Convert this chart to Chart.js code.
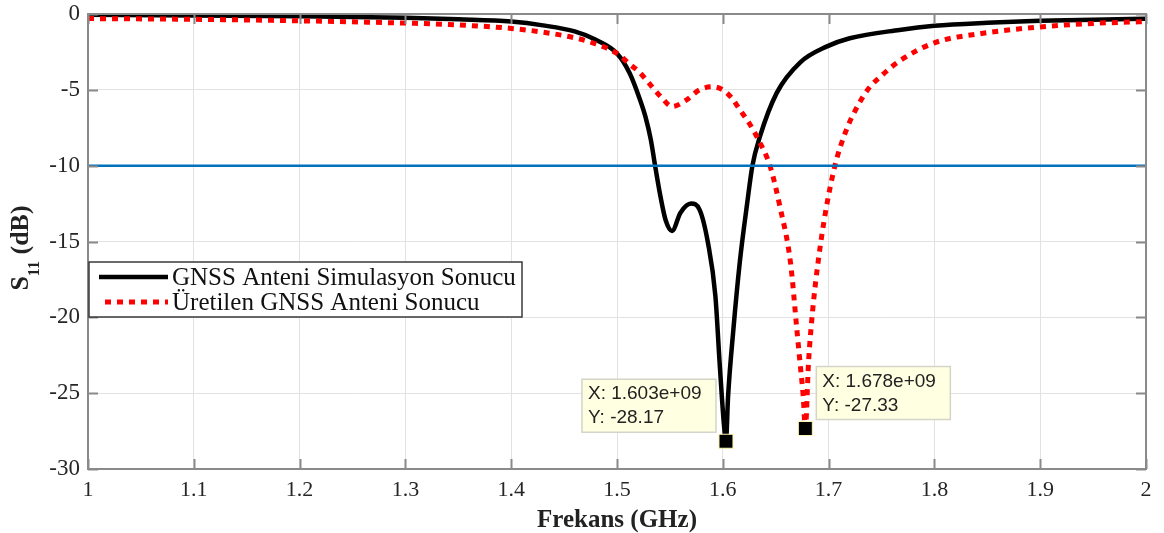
<!DOCTYPE html>
<html>
<head>
<meta charset="UTF-8" />
<script src="https://cdn.jsdelivr.net/npm/chart.js@4/dist/chart.umd.min.js"></script>
<style>
  html, body { margin: 0; padding: 0; background: #fff; }
  canvas { display: block; }
</style>
</head>
<body>
<canvas id="s11" width="1164" height="533"></canvas>
<script>
// Simulated antenna response (GHz, dB)
const simFreq = [1.00, 1.10, 1.20, 1.30, 1.35, 1.40, 1.430, 1.460, 1.480, 1.500, 1.512, 1.522, 1.527, 1.532, 1.536,
  1.541, 1.546, 1.552, 1.560, 1.570, 1.578, 1.586, 1.593, 1.597, 1.601, 1.603, 1.605, 1.610, 1.616,
  1.623, 1.628, 1.635, 1.651, 1.673, 1.698, 1.720, 1.767, 1.800, 1.850, 1.900, 1.950, 2.00];
const simS11 = [-0.05, -0.10, -0.15, -0.25, -0.35, -0.50, -0.75, -1.15, -1.70, -2.60, -3.90, -5.70, -6.80, -8.30, -10.0,
  -12.0, -13.6, -14.3, -13.1, -12.5, -12.9, -15.1, -18.6, -23.0, -27.0, -28.17, -25.2, -20.8, -16.4,
  -12.5, -10.0, -8.1, -5.2, -3.2, -2.15, -1.6, -1.05, -0.78, -0.58, -0.45, -0.38, -0.32];

// Measured response of the manufactured antenna
const measFreq = [1.00, 1.10, 1.20, 1.30, 1.35, 1.40, 1.430, 1.462, 1.477, 1.500, 1.512, 1.522, 1.532,
  1.542, 1.552, 1.565, 1.578, 1.590, 1.600, 1.608, 1.616, 1.625, 1.633, 1.645, 1.654, 1.664, 1.670,
  1.673, 1.676, 1.678, 1.681, 1.685, 1.690, 1.697, 1.706, 1.717, 1.728, 1.738, 1.751, 1.767, 1.800, 1.846,
  1.900, 1.950, 2.00];
const measS11 = [-0.30, -0.35, -0.45, -0.60, -0.72, -0.95, -1.20, -1.60, -1.90, -2.60, -3.30, -3.90, -4.70,
  -5.50, -6.10, -5.70, -5.00, -4.80, -5.00, -5.50, -6.30, -7.20, -8.20, -10.1, -12.7, -16.4, -20.8,
  -23.0, -25.2, -27.33, -23.0, -19.5, -16.4, -13.1, -10.0, -7.6, -6.0, -4.9, -4.0, -3.1, -1.9, -1.27,
  -0.85, -0.62, -0.5];

const refLevel = -10;
const freqRange = [1, 2];
const s11Range = [-30, 0];

const seriesNames = ['GNSS Anteni Simulasyon Sonucu', 'Üretilen GNSS Anteni Sonucu'];
const dataTips = [
  { x: 1.603, y: -28.17, label: ['X: 1.603e+09', 'Y: -28.17'], side: 'left' },
  { x: 1.678, y: -27.33, label: ['X: 1.678e+09', 'Y: -27.33'], side: 'right' }
];

const SERIF = "'Liberation Serif', 'Times New Roman', serif";
const SANS = "'Liberation Sans', Arial, sans-serif";

const toPoints = (xs, ys) => xs.map((v, i) => ({ x: v, y: ys[i] }));

// box, inward ticks, legend, data tips and axis titles
const overlay = {
  id: 'overlay',
  afterDatasetsDraw(chart) {
    const { ctx, chartArea: a, scales: { x, y } } = chart;
    ctx.save();

    ctx.strokeStyle = '#8a8a8a';
    ctx.lineWidth = 2;
    ctx.strokeRect(a.left, a.top, a.right - a.left, a.bottom - a.top);
    ctx.beginPath();
    x.ticks.forEach(t => {
      const px = Math.round(x.getPixelForValue(t.value)) + 0.5;
      ctx.moveTo(px, a.bottom); ctx.lineTo(px, a.bottom - 10);
      ctx.moveTo(px, a.top); ctx.lineTo(px, a.top + 10);
    });
    y.ticks.forEach(t => {
      const py = Math.round(y.getPixelForValue(t.value)) + 0.5;
      ctx.moveTo(a.left, py); ctx.lineTo(a.left + 10, py);
      ctx.moveTo(a.right, py); ctx.lineTo(a.right - 10, py);
    });
    ctx.stroke();

    // legend
    const lg = { x: 89, y: 262, w: 433, h: 55 };
    ctx.fillStyle = '#fff';
    ctx.fillRect(lg.x, lg.y, lg.w, lg.h);
    ctx.strokeStyle = '#3a3a3a';
    ctx.lineWidth = 1.5;
    ctx.strokeRect(lg.x, lg.y, lg.w, lg.h);
    const rows = [277, 302];
    const styles = chart.data.datasets;
    rows.forEach((ry, i) => {
      const ds = styles[i];
      ctx.beginPath();
      ctx.strokeStyle = ds.borderColor;
      ctx.lineWidth = ds.borderWidth;
      ctx.setLineDash(ds.borderDash || []);
      ctx.moveTo(i === 0 ? 99 : 105, ry);
      ctx.lineTo(168, ry);
      ctx.stroke();
      ctx.setLineDash([]);
      ctx.fillStyle = '#111';
      ctx.font = '25px ' + SERIF;
      ctx.textBaseline = 'middle';
      ctx.textAlign = 'left';
      ctx.fillText(seriesNames[i], 172, ry + 1);
    });

    // data tips
    dataTips.forEach(tip => {
      const px = x.getPixelForValue(tip.x);
      const py = y.getPixelForValue(tip.y);
      const bw = 134, bh = 53;
      const bx = tip.side === 'left' ? px - 10 - bw : px + 11;
      const by = py - 9 - bh;
      ctx.fillStyle = '#ffffe1';
      ctx.fillRect(bx, by, bw, bh);
      ctx.strokeStyle = '#d4d4c8';
      ctx.lineWidth = 1.5;
      ctx.strokeRect(bx, by, bw, bh);
      ctx.fillStyle = '#222';
      ctx.font = '19px ' + SANS;
      ctx.textAlign = 'left';
      ctx.textBaseline = 'middle';
      ctx.fillText(tip.label[0], bx + 6, by + 15);
      ctx.fillText(tip.label[1], bx + 6, by + 39);
      ctx.fillStyle = '#000';
      ctx.fillRect(px - 7, py - 7, 14, 14);
      ctx.strokeStyle = '#fff7b0';
      ctx.lineWidth = 1;
      ctx.strokeRect(px - 7, py - 7, 14, 14);
    });

    // axis titles
    ctx.fillStyle = '#222';
    ctx.font = 'bold 25px ' + SERIF;
    ctx.textAlign = 'center';
    ctx.textBaseline = 'alphabetic';
    ctx.fillText('Frekans (GHz)', (a.left + a.right) / 2, 527);

    ctx.translate(28, 248);
    ctx.rotate(-Math.PI / 2);
    const big = 'bold 26px ' + SERIF, small = 'bold 16px ' + SERIF;
    ctx.font = big; const wS = ctx.measureText('S').width;
    const wD = ctx.measureText(' (dB)').width;
    ctx.font = small; const w11 = ctx.measureText('11').width;
    let cx = -(wS + w11 + wD) / 2;
    ctx.textAlign = 'left';
    ctx.font = big; ctx.fillText('S', cx, 0); cx += wS;
    ctx.font = small; ctx.fillText('11', cx, 11); cx += w11;
    ctx.font = big; ctx.fillText(' (dB)', cx, 0);

    ctx.restore();
  }
};

new Chart(document.getElementById('s11'), {
  type: 'line',
  data: {
    datasets: [
      {
        label: seriesNames[0],
        data: toPoints(simFreq, simS11),
        borderColor: '#000',
        borderWidth: 4.5,
        pointRadius: 0,
        cubicInterpolationMode: 'monotone',
        order: 3
      },
      {
        label: seriesNames[1],
        data: toPoints(measFreq, measS11),
        borderColor: '#ff0000',
        borderWidth: 5,
        borderDash: [6, 6],
        pointRadius: 0,
        cubicInterpolationMode: 'monotone',
        order: 2
      },
      {
        label: '-10 dB',
        data: toPoints(freqRange, [refLevel, refLevel]),
        borderColor: '#0072bd',
        borderWidth: 2.5,
        pointRadius: 0,
        order: 1
      }
    ]
  },
  options: {
    responsive: false,
    animation: false,
    devicePixelRatio: 1,
    layout: { padding: { top: 14, right: 18, left: 0, bottom: 0 } },
    plugins: { legend: { display: false }, tooltip: { enabled: false } },
    scales: {
      x: {
        type: 'linear',
        min: freqRange[0],
        max: freqRange[1],
        afterFit: s => { s.height = 64; s.paddingLeft = 0; s.paddingRight = 0; },
        grid: { color: '#e2e2e2', lineWidth: 1, drawTicks: false },
        border: { display: false },
        ticks: {
          stepSize: 0.1,
          padding: 8,
          color: '#262626',
          font: { family: SERIF, size: 22 },
          callback: v => String(Number(v.toFixed(1)))
        }
      },
      y: {
        min: s11Range[0],
        max: s11Range[1],
        afterFit: s => { s.width = 88; s.paddingTop = 0; s.paddingBottom = 0; },
        grid: { color: '#e2e2e2', lineWidth: 1, drawTicks: false },
        border: { display: false },
        ticks: {
          stepSize: 5,
          padding: 8,
          color: '#262626',
          font: { family: SERIF, size: 23 }
        }
      }
    }
  },
  plugins: [overlay]
});
</script>
</body>
</html>
